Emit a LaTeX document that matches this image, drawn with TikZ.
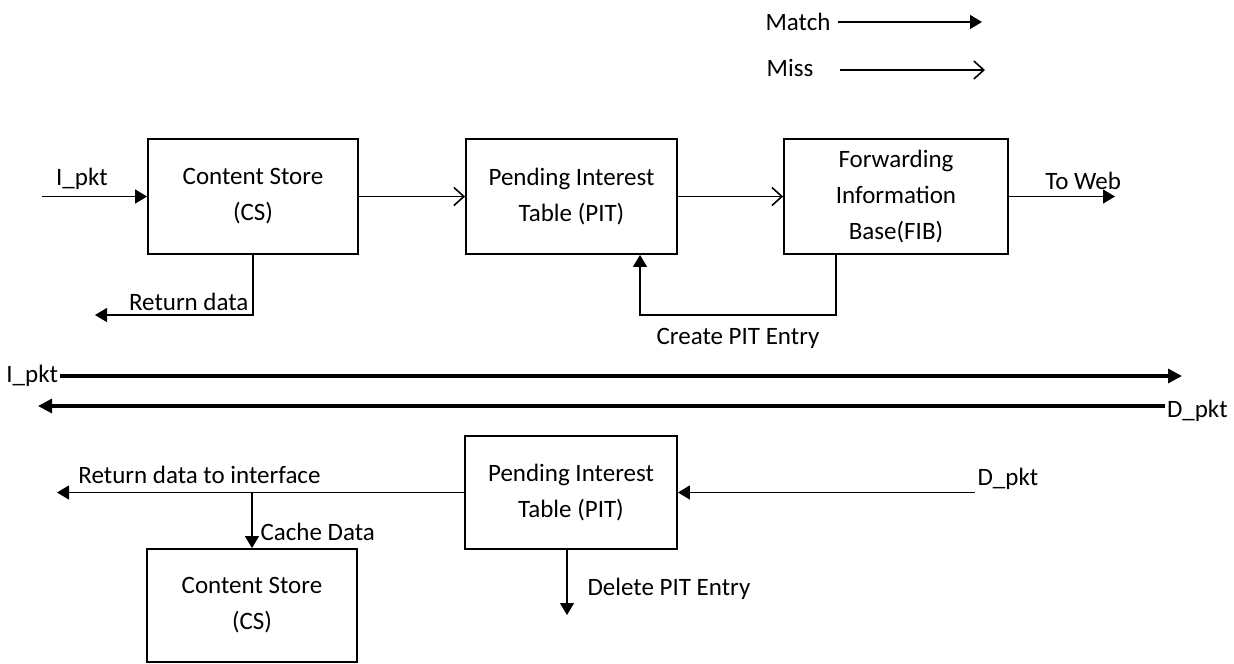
\documentclass[tikz,border=0pt]{standalone}
\usepackage{fontspec}
\setmainfont{Carlito}
\usetikzlibrary{positioning, calc, arrows.meta}

\begin{document}
\begin{tikzpicture}[x=0.5pt, y=-0.5pt,
    font=\fontsize{12.5}{18}\selectfont,
    block/.style={draw, line width=0.9pt, minimum height=57.5pt, align=center, inner sep=2pt},
    match/.style={line width=0.6pt, -{Triangle[length=6pt, width=7pt]}},
    miss/.style={line width=0.8pt, -{Straight Barb[length=5pt, width=9pt, line width=0.8pt]}},
    bus/.style={line width=1.6pt, -{Triangle[length=7pt, width=7pt]}}]
      \useasboundingbox (0,0) rectangle (1234,663);

      % legend
      \node (MatchLbl) at (798,22) {Match};
      \node (MissLbl) at (790,68) {Miss};
      \coordinate (MatchEnd) at (982,22);
      \coordinate (MissStart) at (840,70);
      \coordinate (MissEnd) at (985,70);

      % interest path
      \node[block, minimum width=105pt] (CS1) at (253,196.5) {Content Store\\(CS)};
      \node[block, minimum width=105.5pt] (PIT1) at (571.5,196.5) {Pending Interest\\Table (PIT)};
      \node[block, minimum width=112pt] (FIB1) at (896,196.5) {Forwarding\\Information\\Base(FIB)};

      \coordinate (In) at (42,196.5);
      \coordinate (Web) at (1115,196.5);
      \coordinate (RetEnd) at (95,315);
      \coordinate (CPE1) at (836,315);
      \coordinate (CPE2) at (640,315);

      % packet directions
      \node[anchor=west, inner sep=1pt] (IPkt) at (4,376) {I\_pkt};
      \node[anchor=east, inner sep=1pt] (DPkt) at (1230,411) {D\_pkt};
      \coordinate (IPktEnd) at (1182,376);
      \coordinate (DPktEnd) at (38,406);

      % data path
      \node[block, minimum width=106pt, minimum height=56.5pt] (PIT2) at (571,492.5) {Pending Interest\\Table (PIT)};
      \node[block, minimum width=105pt, minimum height=56.5pt] (CS2) at (252,605.5) {Content Store\\(CS)};

      \coordinate (DSrc) at (975,492.5);
      \coordinate (RetIf) at (57,492.5);
      \coordinate (Cache) at (252,492.5);
      \coordinate (Del) at (567,615);

      \draw[match] (MatchLbl.east) -- (MatchEnd);
      \draw[miss] (MissStart) -- (MissEnd);

      \draw[match] (In) -- node[above, pos=0.38] {I\_pkt} (CS1.west);
      \draw[miss] (CS1.east) -- (PIT1.west);
      \draw[miss] (PIT1.east) -- (FIB1.west);
      \draw[match] (FIB1.east) -- node[above, pos=0.7] {To Web} (Web);
      \draw[match] (CS1.south) |- node[above left, pos=0.5, inner sep=2pt] {Return data} (RetEnd);
      \draw[match] (FIB1.south -| CPE1) -- (CPE1) -- node[below=3pt] {Create PIT Entry} (CPE2) -- (PIT1.south -| CPE2);

      \draw[bus] (IPkt.east) -- (IPktEnd);
      \draw[bus] (DPkt.west |- DPktEnd) -- (DPktEnd);

      \draw[match] (DSrc) node[anchor=south west, inner sep=1pt] {D\_pkt} -- (PIT2.east);
      \draw[match] (PIT2.west) -- node[above, pos=0.65, inner sep=4pt] {Return data to interface} (RetIf);
      \draw[match] (Cache) -- node[right, pos=0.7, inner sep=4pt] {Cache Data} (CS2.north);
      \draw[match] (PIT2.south -| Del) -- node[right, pos=0.6, inner sep=10pt] {Delete PIT Entry} (Del);
    \end{tikzpicture}
\end{document}
